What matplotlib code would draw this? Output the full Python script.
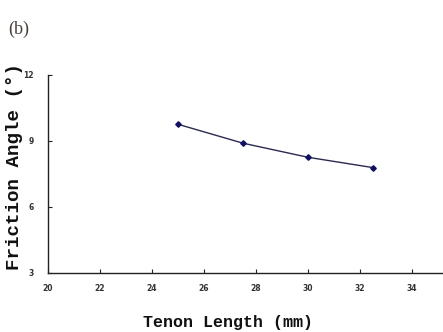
import matplotlib
matplotlib.use("Agg")
import matplotlib.pyplot as plt

tenon_length = [25.0, 27.5, 30.0, 32.5]
friction_angle = [9.76, 8.90, 8.26, 7.79]
x_ticks = [20, 22, 24, 26, 28, 30, 32, 34]
y_ticks = [3, 6, 9, 12]

fig = plt.figure(figsize=(4.43, 3.32), dpi=100)
ax = fig.add_axes([48/443, 59/332, 1 - 48/443, (273-75)/332])

ax.plot(tenon_length, friction_angle, color='#2a2a50', lw=1.0,
        marker='D', ms=2.8, mfc='#101060', mec='#101060', zorder=3)

ax.set_xlim(20, 20 + (443-48)/26.0)
ax.set_ylim(3, 12)
ax.set_xticks(x_ticks)
ax.set_yticks(y_ticks)
ax.set_xticklabels([str(t) for t in x_ticks])
ax.set_yticklabels([str(t) for t in y_ticks])
for s in ['top', 'right']:
    ax.spines[s].set_visible(False)
for s in ['left', 'bottom']:
    ax.spines[s].set_linewidth(1.0)
    ax.spines[s].set_color('#222222')
ax.tick_params(axis='both', direction='in', length=3, width=0.8, color='#222222',
               labelsize=5.5, labelcolor='#333333')
ax.tick_params(axis='x', pad=8)
ax.tick_params(axis='y', pad=10)
for lab in ax.get_xticklabels() + ax.get_yticklabels():
    lab.set_fontweight('bold')
    lab.set_family('DejaVu Sans')

fig.text(15/443, 1 - 167/332, 'Friction Angle (°)', rotation=90, ha='center', va='center',
         family='Liberation Mono', fontweight='bold', fontsize=13.8, color='#111111')
fig.text(228/443, 1 - 323/332, 'Tenon Length (mm)', ha='center', va='center',
         family='Liberation Mono', fontsize=12, fontweight='bold', color='#111111')
fig.text(8/443, 1 - 29/332, '(b)', ha='left', va='center',
         family='Liberation Serif', fontsize=13, color='#4a3f3a')

fig.savefig('out.png', dpi=100)
